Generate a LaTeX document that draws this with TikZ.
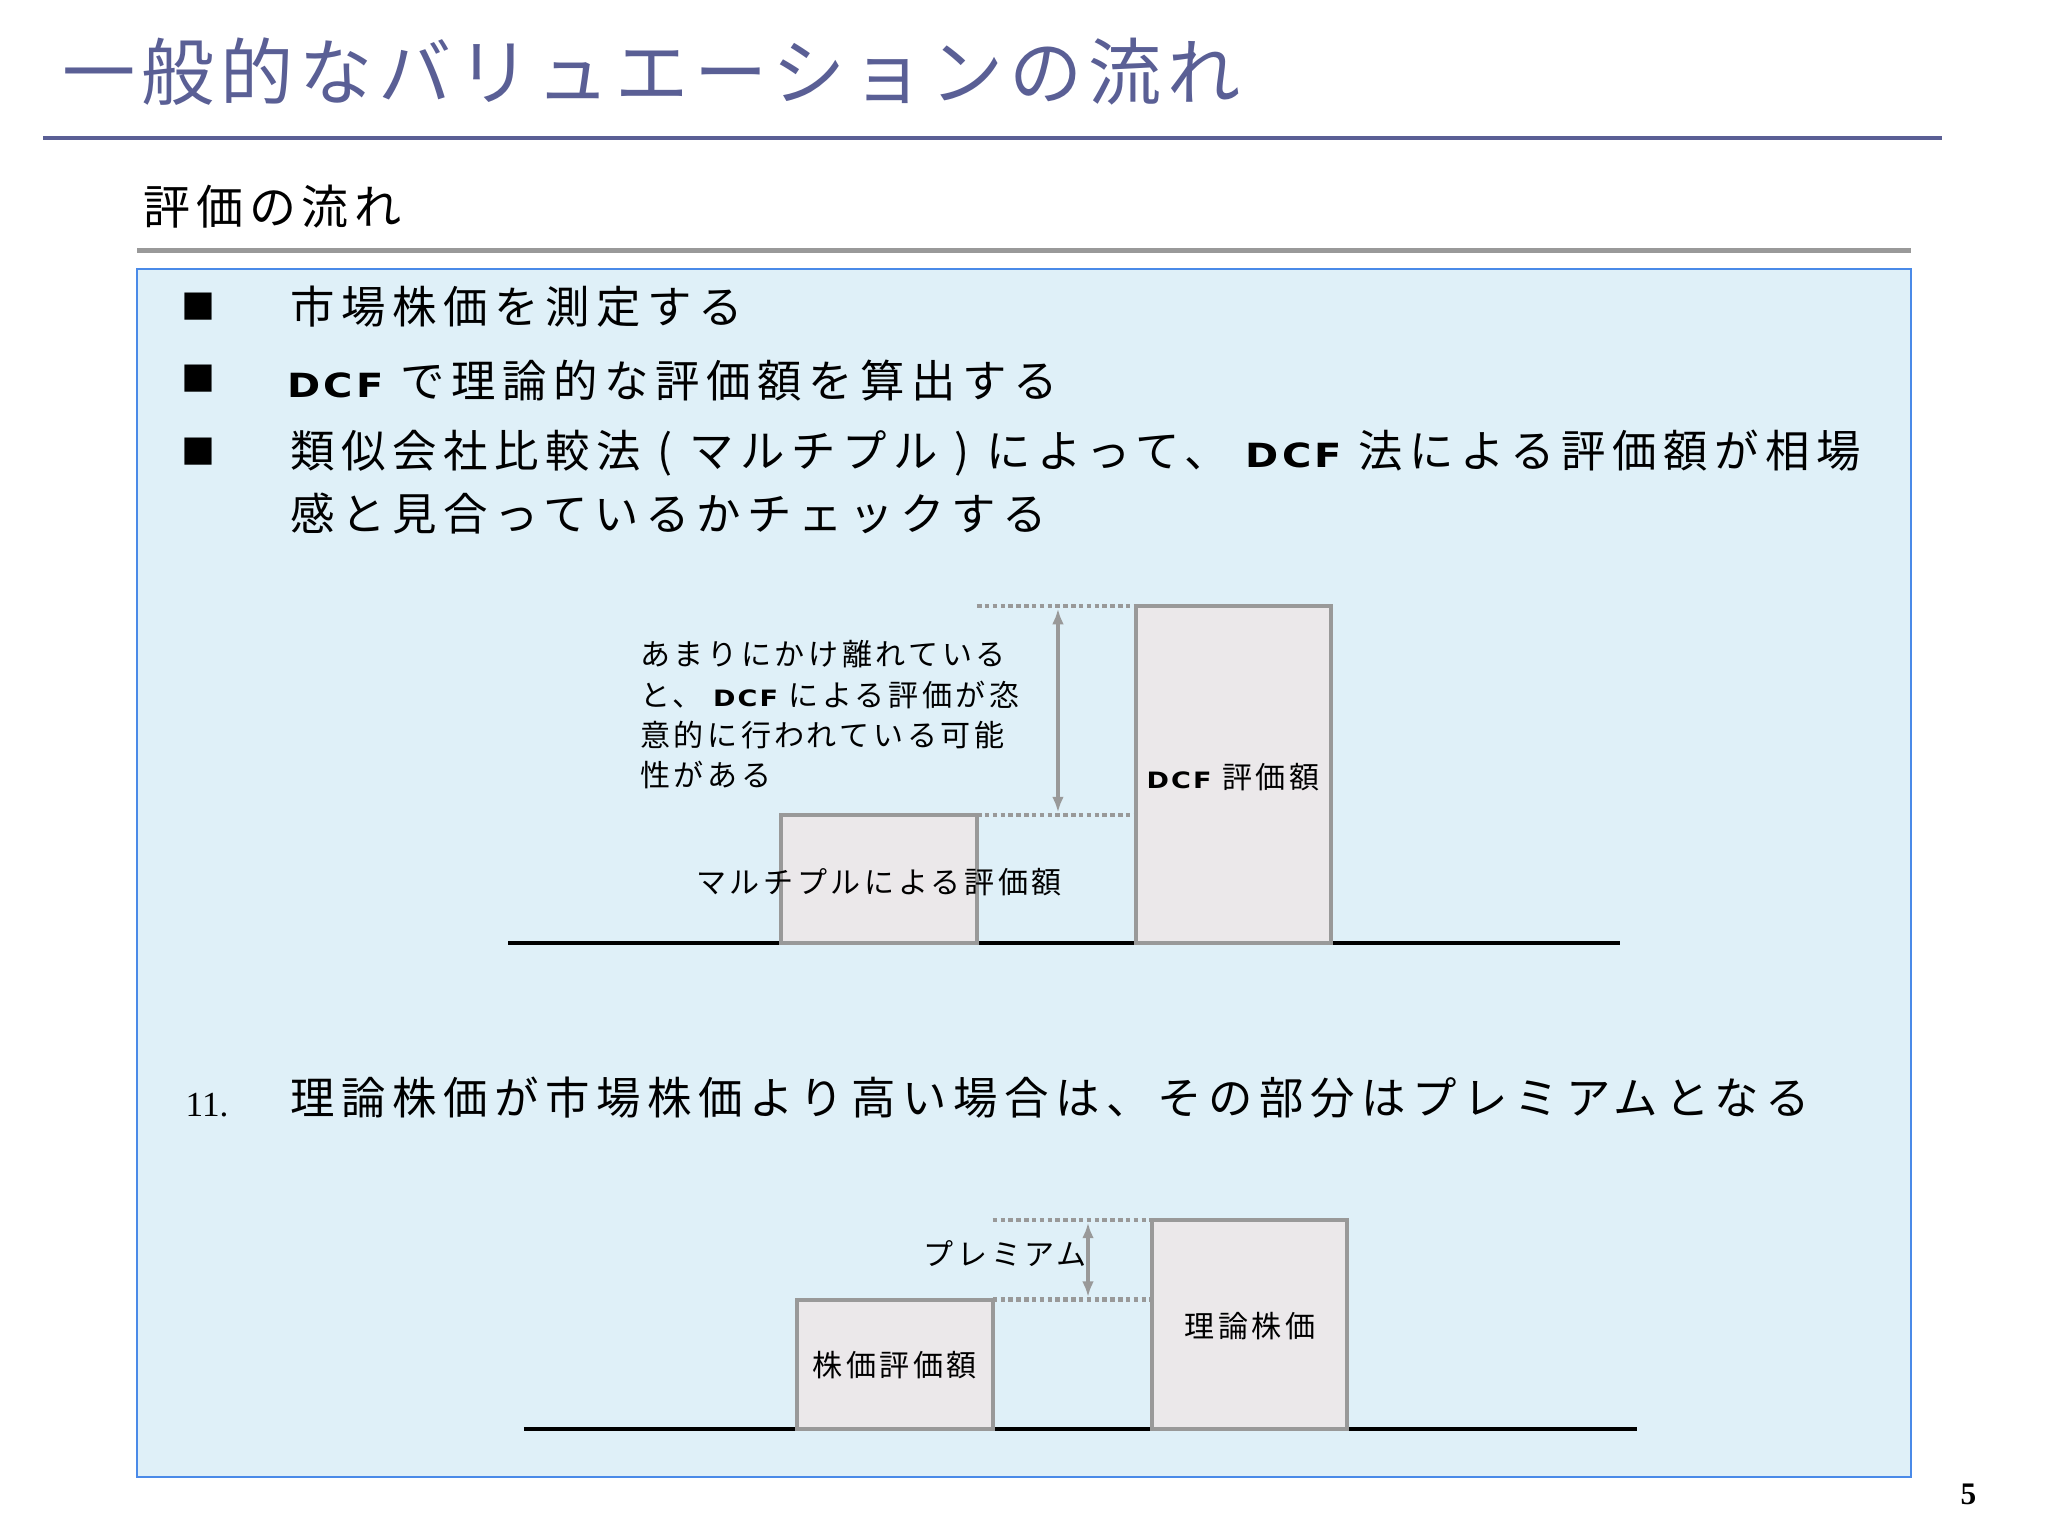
\documentclass[tikz,border=0pt]{standalone}
\usepackage{fontspec}
\setmainfont{Noto Sans CJK JP}
\newfontfamily\titlefont[LetterSpace=8]{Noto Sans CJK JP}
\newfontfamily\bodyfont[LetterSpace=15]{Noto Sans CJK JP}
\newfontfamily\notefont[LetterSpace=12]{Noto Sans CJK JP}
\newfontfamily\serifnum{Liberation Serif}
\newfontfamily\dcffont[LetterSpace=8]{DejaVu Sans}
\usetikzlibrary{arrows.meta}
\definecolor{titlec}{HTML}{5A5F95}
\definecolor{boxfill}{HTML}{DFF0F8}
\definecolor{boxline}{HTML}{4A8AE8}
\definecolor{barfill}{HTML}{EBE8EA}
\definecolor{barline}{HTML}{999999}
\newcommand{\dcf}{{\dcffont\bfseries\scalebox{0.9}[0.75]{DCF}}}
\tikzset{
  bar/.style={draw=barline,line width=3pt,fill=barfill},
  base/.style={line width=2.5pt,black},
  dots/.style={draw=barline,line width=3.5pt,dash pattern=on 3.5pt off 2.5pt},
  dim/.style={draw=barline,line width=2.5pt,{Latex[length=12pt,width=9pt]}-{Latex[length=12pt,width=9pt]}},
  big/.style={font=\bodyfont\fontsize{34}{40}\selectfont,anchor=west,inner sep=0},
  small/.style={font=\notefont\fontsize{23}{31}\selectfont,inner sep=0},
}
\begin{document}
\begin{tikzpicture}[x=1pt,y=-1pt]
\useasboundingbox (0,0) rectangle (1568,1176);
\fill[white] (0,0) rectangle (1568,1176);
\node[anchor=west,inner sep=0,text=titlec,font=\titlefont\fontsize{56}{60}\selectfont] (title) at (48,55) {一般的なバリュエーションの流れ};
\draw[titlec,line width=3pt] (33,106) -- (1487,106);
\node[anchor=west,inner sep=0,font=\notefont\fontsize{36}{40}\selectfont] (sub) at (110,158) {評価の流れ};
\draw[gray!80,line width=4pt] (105,192) -- (1463,192);
\draw[boxline,line width=1.5pt,fill=boxfill] (105,206) rectangle (1463,1131);
\foreach \y/\n in {235/b1,290/b2,346/b3}{
  \node[inner sep=0,font=\fontsize{26}{30}\selectfont] (\n) at (152,\y) {■};
}
\node[big] (t1) at (222,235) {市場株価を測定する};
\node[big] (t2) at (220,291) {\dcf{} で理論的な評価額を算出する};
\node[big] (t3) at (222,347) {類似会社比較法 ( マルチプル ) によって、 \dcf{} 法による評価額が相場};
\node[big] (t3b) at (222,393) {感と見合っているかチェックする};
% diagram 1
\draw[base] (389,722) -- (1240,722);
\draw[bar] (598,624) rectangle (748,722);
\draw[bar] (870,464) rectangle (1019,722);
\coordinate (d1a) at (748,464); \coordinate (d1b) at (870,464);
\coordinate (d2a) at (748,624); \coordinate (d2b) at (870,624);
\draw[dots] (d1a) -- (d1b);
\draw[dots] (d2a) -- (d2b);
\coordinate (a1) at (810,466); \coordinate (a2) at (810,622);
\draw[dim] (a1) -- (a2);
\node[small,anchor=north west,align=left] (note) at (490,490) {あまりにかけ離れている\\と、 \dcf{} による評価が恣\\意的に行われている可能\\性がある};
\node[small] (mult) at (673,675) {マルチプルによる評価額};
\node[small] (dcfv) at (944,595) {\dcf{} 評価額};
% item 11
\node[anchor=west,inner sep=0,font=\serifnum\fontsize{27}{30}\selectfont] (n11) at (142,846) {11.};
\node[big] (t4) at (222,840) {理論株価が市場株価より高い場合は、その部分はプレミアムとなる};
% diagram 2
\draw[base] (401,1094) -- (1253,1094);
\draw[bar] (610,995) rectangle (760,1094);
\draw[bar] (882,934) rectangle (1031,1094);
\coordinate (e1a) at (760,934); \coordinate (e1b) at (882,934);
\coordinate (e2a) at (760,995); \coordinate (e2b) at (882,995);
\draw[dots] (e1a) -- (e1b);
\draw[dots] (e2a) -- (e2b);
\coordinate (c1) at (833,936); \coordinate (c2) at (833,993);
\draw[dim] (c1) -- (c2);
\node[small,anchor=east] (prem) at (832,960) {プレミアム};
\node[small] (kab) at (685,1045) {株価評価額};
\node[small] (rir) at (957,1015) {理論株価};
\node[font=\serifnum\bfseries\fontsize{24}{28}\selectfont,inner sep=0] (pg) at (1507,1144) {5};
\end{tikzpicture}
\end{document}
